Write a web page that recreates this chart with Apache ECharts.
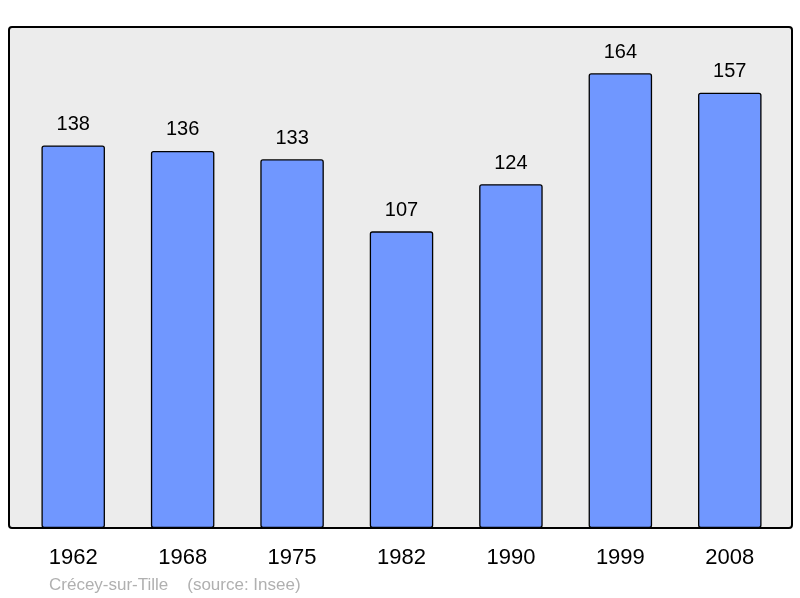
<!DOCTYPE html>
<html><head><meta charset="utf-8">
<script src="https://cdn.jsdelivr.net/npm/echarts@6/dist/echarts.min.js"></script>
<style>html,body{margin:0;padding:0;background:#fff}#c{width:800px;height:598px}</style>
</head><body><div id="c"></div>
<script>
var categories = ['1962','1968','1975','1982','1990','1999','2008'];
var population = [138,136,133,107,124,164,157];
var sourceText = 'Crécey-sur-Tille    (source: Insee)';

var chart = echarts.init(document.getElementById('c'), null, {renderer:'canvas'});
chart.setOption({
  animation:false,
  backgroundColor:'#ffffff',
  textStyle:{fontFamily:'Liberation Sans, Arial, sans-serif'},
  graphic:[
    {type:'rect', z:-10, shape:{x:9,y:27,width:783,height:501,r:3},
     style:{fill:'#ececec',stroke:'#000',lineWidth:2}},
    {type:'text', left:49, top:577, style:{text:sourceText, fill:'#b0b0b0', font:'17px "Liberation Sans", Arial, sans-serif'}}
  ],
  grid:{left:18.5,right:15.5,top:27,bottom:70},
  xAxis:{type:'category',data:categories,
    axisLine:{show:false},axisTick:{show:false},
    axisLabel:{fontSize:22,color:'#000',margin:19,fontFamily:'Liberation Sans, Arial, sans-serif'}},
  yAxis:{type:'value',min:0,max:180.7,show:false,splitLine:{show:false}},
  series:[{type:'bar',data:population,barWidth:63.5,
    itemStyle:{color:'#7097ff',borderColor:'#000',borderWidth:1.3,borderRadius:2},
    label:{show:true,position:'top',distance:11,fontSize:20,color:'#000',fontFamily:'Liberation Sans, Arial, sans-serif'}}]
});
</script></body></html>
